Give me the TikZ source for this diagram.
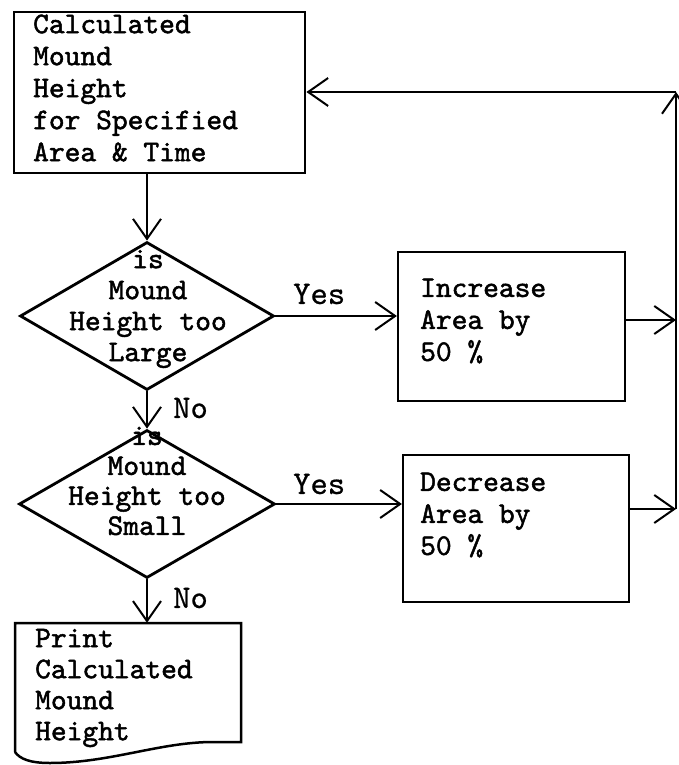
\documentclass[tikz,border=0pt]{standalone}
\usepackage{fontspec}
\newfontfamily\twbold{lmmono10-regular.otf}[FakeBold=1.6]
\newfontfamily\twplain{lmmono10-regular.otf}[FakeBold=0.6]
\usetikzlibrary{arrows.meta,shapes.geometric,calc}
\begin{document}
\begin{tikzpicture}[x=1pt,y=-1pt,
  >={Straight Barb[length=20pt,width=28pt]},
  conn/.style={line width=2pt,->},
  boxtxt/.style={font=\fontsize{30}{32}\selectfont\twbold,inner sep=0pt,align=left,anchor=west},
  dtxt/.style={font=\fontsize{30}{31}\selectfont\twbold,inner sep=0pt,align=center},
  lbl/.style={font=\fontsize{33}{33}\selectfont\twplain,inner sep=0pt,anchor=west},
  heavybox/.style={draw,line width=2.8pt,rectangle,inner sep=0pt},
  lightbox/.style={draw,line width=2.2pt,rectangle,inner sep=0pt},
  decision/.style={draw,line width=2.8pt,diamond,inner sep=0pt}]
\useasboundingbox (0,0) rectangle (679,765);

% boxes
\node[heavybox,minimum width=291pt,minimum height=161pt] (calc) at (159.5,92.5) {};
\node[boxtxt] (calct) at (33,88) {Calculated\\Mound\\Height\\for Specified\\Area \& Time};

\node[decision,minimum width=254pt,minimum height=148pt] (d1) at (147,316) {};
\node[dtxt] (d1t) at (148,309) {is\\Mound\\Height too\\Large};

\node[decision,minimum width=256pt,minimum height=148pt] (d2) at (147,504) {};
\node[dtxt,font=\fontsize{30}{30}\selectfont\twbold] (d2t) at (147,481) {is\\Mound\\Height too\\Small};

\node[lightbox,minimum width=227pt,minimum height=149pt] (inc) at (511.5,326.5) {};
\node[boxtxt] (inct) at (420,321) {Increase\\Area by\\50 \%};

\node[lightbox,minimum width=226pt,minimum height=147pt] (dec) at (516,528.5) {};
\node[boxtxt] (dect) at (420,515) {Decrease\\Area by\\50 \%};

\node[minimum width=226pt,minimum height=129pt,inner sep=0pt] (print) at (128,687.5) {};
\draw[line width=2.5pt,line join=miter] (15,752) -- (15,623) -- (241,623) -- (241,742) -- (213,742)
  .. controls (160,742) and (110,763) .. (50,763)
  .. controls (30,763) and (20,759) .. (15,752);
\node[boxtxt,font=\fontsize{30}{31}\selectfont\twbold] (printt) at (35,688) {Print\\Calculated\\Mound\\Height};

% labels
\node[lbl] (yes1) at (293,294) {Yes};
\node[lbl] (yes2) at (293,484) {Yes};
\node[lbl] (no1) at (173,408) {No};
\node[lbl] (no2) at (173,598) {No};

% feedback coordinates
\coordinate (tr) at (676,92);
\coordinate (br) at (676,509);

% connectors
\draw[conn] (d1.north |- calc.south) -- (d1.north);
\draw[conn] (d1.south) -- (d2.north);
\draw[conn] (d2.south) -- (d2.south |- print.north);
\draw[conn] (d1.east) -- (d1.east -| inc.west);
\draw[conn] (d2.east) -- (d2.east -| dec.west);
\draw[conn] ([yshift=6.5pt]inc.east) -- ([yshift=6.5pt]inc.east -| br);
\draw[conn] ([yshift=19.5pt]dec.east) -- (br);
\draw[conn] (br) -- (tr);
\draw[conn] (tr) -- (calc.east |- tr);
\end{tikzpicture}
\end{document}
